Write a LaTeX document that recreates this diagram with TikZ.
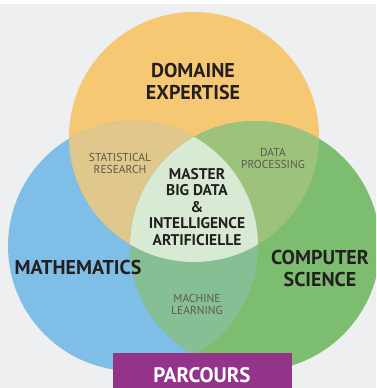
\documentclass[tikz,border=0pt]{standalone}
\usepackage{fontspec}
\setmainfont{PT Sans}
\begin{document}
\begin{tikzpicture}[x=1pt,y=-1pt,
  big/.style={font=\fontsize{20}{22}\selectfont\bfseries, text=txt, align=center, inner sep=0pt},
  mid/.style={font=\fontsize{15.5}{16.5}\selectfont\bfseries, text=txt, align=center, inner sep=0pt},
  small/.style={font=\fontsize{11.5}{12.5}\selectfont, text=smalltxt, align=center, inner sep=0pt}]
\definecolor{bg}{HTML}{EEEFF1}
\definecolor{cy}{HTML}{F6C874}
\definecolor{cb}{HTML}{7EBEE7}
\definecolor{cg}{HTML}{7DBD6F}
\definecolor{cyb}{HTML}{E0C78B}
\definecolor{cyg}{HTML}{9DC27B}
\definecolor{cbg}{HTML}{86BF94}
\definecolor{cc}{HTML}{D9EAD4}
\definecolor{purp}{HTML}{93338A}
\definecolor{txt}{HTML}{231F20}
\definecolor{smalltxt}{HTML}{5A5A50}
\useasboundingbox (0,0) rectangle (376,388);
\clip (0,0) rectangle (376,388);
\fill[bg] (0,0) rectangle (376,388);
\fill[white] (0,0) rectangle (376,4);
\def\Y{(194,137) circle (125)}
\def\B{(133,246) circle (125)}
\def\G{(255,246) circle (125)}
\fill[cy] \Y;
\fill[cb] \B;
\fill[cg] \G;
\begin{scope}\clip \Y; \fill[cyb] \B; \end{scope}
\begin{scope}\clip \Y; \fill[cyg] \G; \end{scope}
\begin{scope}\clip \B; \fill[cbg] \G; \end{scope}
\begin{scope}\clip \Y; \clip \B; \fill[cc] \G; \end{scope}
\fill[purp] (113,353) rectangle (292,400);
\node[big] (dom) at (193,81) {DOMAINE\\EXPERTISE};
\node[big] (math) at (78,267) {MATHEMATICS};
\node[big] (cs) at (320,268) {COMPUTER\\SCIENCE};
\node[mid] (master) at (197,207) {MASTER\\BIG DATA\\\&\\INTELLIGENCE\\ARTIFICIELLE};
\node[small] (stat) at (120,163.5) {STATISTICAL\\RESEARCH};
\node[small] (dp) at (273,158.5) {DATA\\PROCESSING};
\node[small] (ml) at (197,304.5) {MACHINE\\LEARNING};
\node[big, text=white, anchor=base, text depth=0pt, font=\fontsize{21}{23}\selectfont\bfseries] (parc) at (202,382) {PARCOURS};
\end{tikzpicture}
\end{document}
